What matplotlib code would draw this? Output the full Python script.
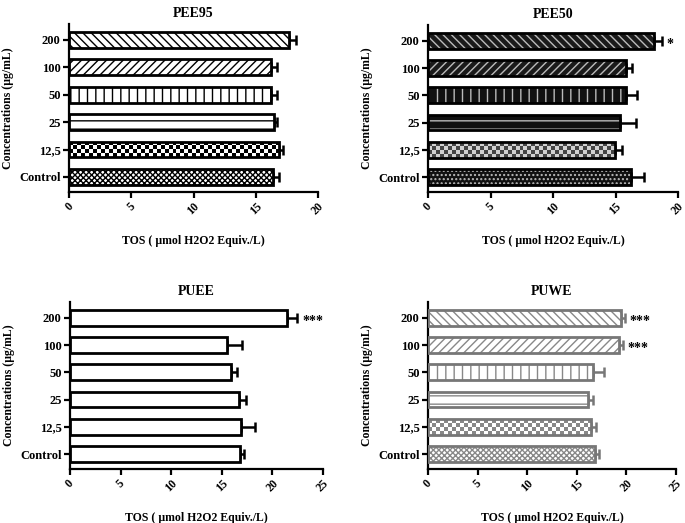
import numpy as np
import matplotlib.pyplot as plt
import matplotlib.transforms as mtransforms
from matplotlib.colors import ListedColormap

plt.rcParams['font.family'] = ['Liberation Serif', 'DejaVu Serif']
plt.rcParams['font.weight'] = 'bold'
plt.rcParams['hatch.linewidth'] = 1.0

# data (bottom to top)
concs = ["Control", "12,5", "25", "50", "100", "200"]

pee95_mean = [16.35, 16.9, 16.45, 16.25, 16.2, 17.7]
pee95_err = [0.55, 0.3, 0.25, 0.45, 0.5, 0.5]

pee50_mean = [16.25, 14.95, 15.35, 15.85, 15.85, 18.05]
pee50_err = [1.0, 0.6, 1.3, 0.9, 0.5, 0.65]
pee50_stars = ["", "", "", "", "", "*"]

puee_mean = [16.8, 16.85, 16.7, 15.95, 15.5, 21.45]
puee_err = [0.4, 1.4, 0.65, 0.6, 1.5, 1.0]
puee_stars = ["", "", "", "", "", "***"]

puwe_mean = [16.8, 16.45, 16.15, 16.65, 19.25, 19.45]
puwe_err = [0.45, 0.45, 0.5, 1.05, 0.4, 0.4]
puwe_stars = ["", "", "", "", "***", "***"]

# "chk<n>" = checkerboard with n px cells, anything else is a hatch
patterns = ["xxxxxx", "chk4", "--", "||", "////", "\\\\\\\\"]
dark_patterns = ["....", "chk4", "--", "||", "////", "\\\\\\\\"]
dark_faces = ["#111111", "#555555", "#111111", "#111111", "#1a1a1a", "#1a1a1a"]

W, H = 685, 523
fig = plt.figure(figsize=(W / 100, H / 100), dpi=100)


def make_ax(l, t, r, b):
    return fig.add_axes([l / W, 1 - b / H, (r - l) / W, (b - t) / H])


def checker(ax, bar, cell, c1, c2):
    x0, y0 = bar.get_x(), bar.get_y()
    w, h = bar.get_width(), bar.get_height()
    p0 = ax.transData.transform((x0, y0))
    p1 = ax.transData.transform((x0 + w, y0 + h))
    nx = max(1, int(round(abs(p1[0] - p0[0]) / cell)))
    ny = max(1, int(round(abs(p1[1] - p0[1]) / cell)))
    arr = np.add.outer(np.arange(ny), np.arange(nx)) % 2
    im = ax.imshow(arr, extent=(x0, x0 + w, y0, y0 + h), aspect="auto",
                   cmap=ListedColormap([c1, c2]), interpolation="nearest",
                   zorder=2)
    im.set_clip_path(bar)


def panel(ax, title, means, errs, xmax, col="black", faces=None, pats=None,
          hcol=None, chk=("black", "white"), stars=None):
    y = np.arange(len(concs))
    ax.set_xlim(0, xmax)
    ax.set_ylim(-0.55, 5.58)
    if faces is None:
        faces = ["white"] * len(concs)
    if pats is not None:
        hatches = [p if not p.startswith("chk") else "" for p in pats]
        bars = ax.barh(y, means, height=0.58, color=faces, hatch=hatches,
                       edgecolor=hcol, linewidth=0, zorder=2)
        for b, p in zip(bars, pats):
            if p.startswith("chk"):
                checker(ax, b, float(p[3:]), chk[0], chk[1])
    else:
        ax.barh(y, means, height=0.58, color=faces, linewidth=0, zorder=2)
    ax.barh(y, means, height=0.58, facecolor="none", edgecolor=col,
            linewidth=2, zorder=3)
    ax.errorbar(means, y, xerr=[np.zeros(len(errs)), errs], fmt="none",
                ecolor=col, elinewidth=1.8, capsize=3.5, capthick=1.8, zorder=1)
    if stars:
        for yi, (m, e, s) in enumerate(zip(means, errs, stars)):
            if s:
                ax.text(m + e + xmax * 0.02, yi - 0.12, s, va="center",
                        ha="left", fontsize=10, fontweight="bold")
    ax.set_xlim(0, xmax)
    ax.set_ylim(-0.55, 5.58)
    ax.set_xticks(np.arange(0, xmax + 1, 5))
    ax.set_xticklabels([str(v) for v in range(0, xmax + 1, 5)], rotation=45,
                       fontsize=8.5, fontweight="bold")
    shift = mtransforms.ScaledTranslation(-5 / 100, 0, fig.dpi_scale_trans)
    for lab in ax.get_xticklabels():
        lab.set_transform(lab.get_transform() + shift)
    ax.set_yticks(y)
    ax.set_yticklabels(concs, fontsize=9, fontweight="bold")
    for s in ["top", "right"]:
        ax.spines[s].set_visible(False)
    for s in ["left", "bottom"]:
        ax.spines[s].set_linewidth(1.6)
    ax.tick_params(width=1.6, length=4, pad=2)
    ax.set_title(title, fontsize=10, fontweight="bold", pad=5)
    ax.set_xlabel("TOS ( µmol H2O2 Equiv./L)", fontsize=8.5,
                  fontweight="bold", labelpad=13)
    ax.set_ylabel("Concentrations (µg/mL)", fontsize=8.5, fontweight="bold")


ax1 = make_ax(69, 24, 318, 192)
panel(ax1, "PEE95", pee95_mean, pee95_err, 20, pats=patterns, hcol="black",
      chk=("black", "white"))

ax2 = make_ax(428, 25, 678, 192)
panel(ax2, "PEE50", pee50_mean, pee50_err, 20, faces=dark_faces,
      pats=dark_patterns, hcol="#bbbbbb", chk=("#444444", "#d0d0d0"),
      stars=pee50_stars)

ax3 = make_ax(70, 302, 323, 469)
panel(ax3, "PUEE", puee_mean, puee_err, 25, stars=puee_stars)

ax4 = make_ax(428, 302, 676, 469)
panel(ax4, "PUWE", puwe_mean, puwe_err, 25, col="#777777", pats=patterns,
      hcol="#888888", chk=("#888888", "white"), stars=puwe_stars)

fig.savefig("out.png", dpi=100)
